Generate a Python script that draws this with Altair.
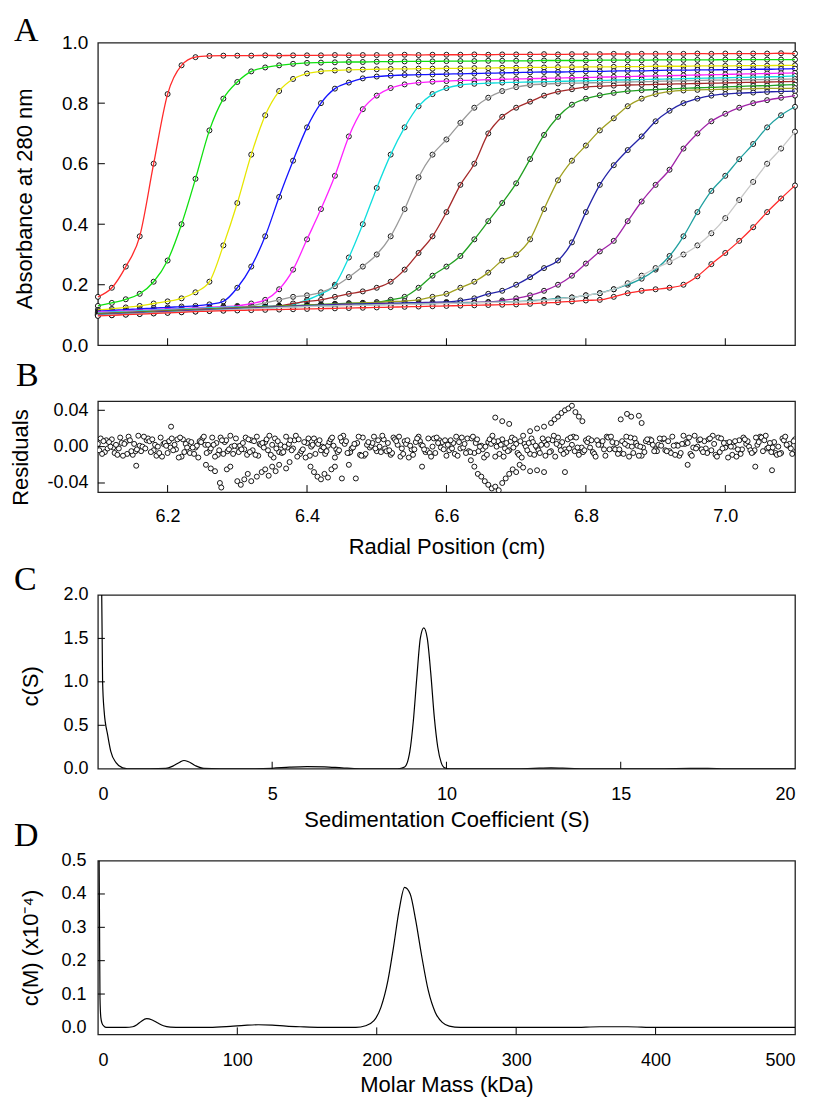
import altair as alt
import pandas as pd

# ---------------- Panel A: sedimentation velocity boundaries ----------------
radius = [6.10, 6.12, 6.14, 6.16, 6.18, 6.20, 6.22, 6.24, 6.26, 6.28,
          6.30, 6.32, 6.34, 6.36, 6.38, 6.40, 6.42, 6.44, 6.46, 6.48,
          6.50, 6.52, 6.54, 6.56, 6.58, 6.60, 6.62, 6.64, 6.66, 6.68,
          6.70, 6.72, 6.74, 6.76, 6.78, 6.80, 6.82, 6.84, 6.86, 6.88,
          6.90, 6.92, 6.94, 6.96, 6.98, 7.00, 7.02, 7.04, 7.06, 7.08, 7.10]

scan01 = [0.160, 0.190, 0.260, 0.360, 0.600, 0.830, 0.925, 0.952, 0.956, 0.957,
          0.957, 0.957, 0.958, 0.957, 0.958, 0.958, 0.958, 0.959, 0.958, 0.959,
          0.959, 0.959, 0.960, 0.959, 0.960, 0.960, 0.960, 0.961, 0.960, 0.961,
          0.961, 0.961, 0.962, 0.961, 0.962, 0.962, 0.962, 0.963, 0.962, 0.963,
          0.963, 0.963, 0.963, 0.964, 0.963, 0.964, 0.964, 0.964, 0.964, 0.965, 0.964]
scan02 = [0.130, 0.140, 0.152, 0.170, 0.210, 0.280, 0.400, 0.550, 0.710, 0.815,
          0.870, 0.905, 0.918, 0.925, 0.930, 0.933, 0.934, 0.935, 0.936, 0.936,
          0.937, 0.937, 0.938, 0.938, 0.938, 0.939, 0.939, 0.939, 0.940, 0.940,
          0.940, 0.940, 0.941, 0.941, 0.941, 0.941, 0.942, 0.942, 0.942, 0.942,
          0.943, 0.943, 0.943, 0.943, 0.943, 0.944, 0.944, 0.944, 0.944, 0.944, 0.944]
scan03 = [0.117, 0.120, 0.125, 0.130, 0.138, 0.145, 0.155, 0.175, 0.210, 0.330,
          0.470, 0.630, 0.760, 0.840, 0.880, 0.898, 0.905, 0.908, 0.910, 0.911,
          0.912, 0.913, 0.913, 0.914, 0.914, 0.915, 0.915, 0.916, 0.916, 0.917,
          0.917, 0.918, 0.918, 0.919, 0.919, 0.920, 0.920, 0.920, 0.921, 0.921,
          0.922, 0.922, 0.922, 0.923, 0.923, 0.923, 0.924, 0.924, 0.924, 0.925, 0.925]
scan04 = [0.113, 0.115, 0.118, 0.120, 0.123, 0.125, 0.128, 0.130, 0.135, 0.145,
          0.190, 0.260, 0.360, 0.490, 0.610, 0.720, 0.800, 0.848, 0.868, 0.882,
          0.888, 0.891, 0.893, 0.894, 0.895, 0.896, 0.897, 0.898, 0.899, 0.900,
          0.901, 0.902, 0.903, 0.903, 0.904, 0.905, 0.905, 0.906, 0.907, 0.907,
          0.908, 0.909, 0.909, 0.910, 0.910, 0.911, 0.911, 0.912, 0.912, 0.913, 0.914]
scan05 = [0.110, 0.112, 0.114, 0.116, 0.118, 0.120, 0.122, 0.124, 0.126, 0.128,
          0.130, 0.138, 0.150, 0.185, 0.250, 0.350, 0.450, 0.560, 0.690, 0.780,
          0.825, 0.850, 0.862, 0.868, 0.871, 0.873, 0.875, 0.876, 0.878, 0.879,
          0.880, 0.881, 0.882, 0.883, 0.884, 0.885, 0.886, 0.887, 0.888, 0.889,
          0.890, 0.891, 0.892, 0.893, 0.894, 0.895, 0.896, 0.897, 0.898, 0.899, 0.900]
scan06 = [0.108, 0.110, 0.112, 0.114, 0.116, 0.118, 0.120, 0.122, 0.124, 0.126,
          0.127, 0.128, 0.129, 0.130, 0.135, 0.150, 0.170, 0.200, 0.290, 0.400,
          0.520, 0.630, 0.720, 0.790, 0.830, 0.850, 0.860, 0.864, 0.866, 0.868,
          0.869, 0.870, 0.871, 0.872, 0.873, 0.874, 0.875, 0.876, 0.877, 0.878,
          0.879, 0.880, 0.881, 0.882, 0.883, 0.884, 0.885, 0.886, 0.887, 0.888, 0.890]
scan07 = [0.106, 0.108, 0.110, 0.112, 0.114, 0.116, 0.118, 0.120, 0.121, 0.123,
          0.125, 0.130, 0.140, 0.150, 0.160, 0.165, 0.175, 0.195, 0.225, 0.260,
          0.300, 0.360, 0.450, 0.555, 0.630, 0.680, 0.735, 0.785, 0.818, 0.840,
          0.853, 0.860, 0.863, 0.865, 0.866, 0.867, 0.868, 0.869, 0.870, 0.871,
          0.872, 0.873, 0.874, 0.875, 0.876, 0.876, 0.877, 0.878, 0.878, 0.879, 0.880]
scan08 = [0.104, 0.106, 0.108, 0.110, 0.112, 0.114, 0.116, 0.118, 0.120, 0.122,
          0.124, 0.126, 0.128, 0.130, 0.138, 0.145, 0.150, 0.160, 0.170, 0.178,
          0.190, 0.210, 0.250, 0.305, 0.360, 0.440, 0.530, 0.600, 0.700, 0.755,
          0.785, 0.805, 0.825, 0.838, 0.846, 0.853, 0.856, 0.858, 0.860, 0.861,
          0.862, 0.863, 0.864, 0.865, 0.866, 0.867, 0.868, 0.869, 0.870, 0.871, 0.872]
scan09 = [0.103, 0.105, 0.107, 0.109, 0.111, 0.113, 0.115, 0.117, 0.119, 0.121,
          0.123, 0.125, 0.127, 0.129, 0.131, 0.133, 0.135, 0.137, 0.139, 0.140,
          0.142, 0.150, 0.160, 0.190, 0.230, 0.260, 0.295, 0.350, 0.410, 0.470,
          0.535, 0.615, 0.695, 0.755, 0.795, 0.815, 0.826, 0.834, 0.840, 0.843,
          0.845, 0.847, 0.849, 0.851, 0.852, 0.854, 0.855, 0.857, 0.858, 0.860, 0.861]
scan10 = [0.102, 0.104, 0.106, 0.108, 0.110, 0.112, 0.114, 0.116, 0.118, 0.120,
          0.122, 0.124, 0.126, 0.128, 0.130, 0.132, 0.134, 0.136, 0.138, 0.140,
          0.142, 0.144, 0.146, 0.150, 0.160, 0.170, 0.190, 0.210, 0.240, 0.280,
          0.300, 0.350, 0.450, 0.545, 0.610, 0.660, 0.710, 0.750, 0.790, 0.815,
          0.830, 0.838, 0.842, 0.844, 0.845, 0.846, 0.847, 0.848, 0.849, 0.849, 0.850]
scan11 = [0.101, 0.103, 0.105, 0.107, 0.109, 0.111, 0.113, 0.115, 0.117, 0.119,
          0.121, 0.123, 0.125, 0.127, 0.129, 0.131, 0.133, 0.135, 0.136, 0.137,
          0.138, 0.139, 0.140, 0.141, 0.142, 0.143, 0.148, 0.155, 0.170, 0.180,
          0.200, 0.225, 0.255, 0.280, 0.340, 0.440, 0.530, 0.595, 0.645, 0.690,
          0.740, 0.775, 0.800, 0.815, 0.825, 0.830, 0.833, 0.835, 0.837, 0.839, 0.840]
scan12 = [0.100, 0.102, 0.104, 0.106, 0.108, 0.110, 0.112, 0.114, 0.116, 0.118,
          0.120, 0.122, 0.124, 0.126, 0.128, 0.130, 0.131, 0.132, 0.133, 0.134,
          0.135, 0.136, 0.137, 0.138, 0.139, 0.140, 0.141, 0.142, 0.143, 0.148,
          0.155, 0.165, 0.180, 0.200, 0.230, 0.270, 0.310, 0.345, 0.410, 0.475,
          0.530, 0.580, 0.650, 0.700, 0.740, 0.765, 0.785, 0.800, 0.810, 0.818, 0.825]
scan13 = [0.099, 0.101, 0.103, 0.105, 0.107, 0.109, 0.111, 0.113, 0.115, 0.117,
          0.119, 0.121, 0.123, 0.125, 0.127, 0.129, 0.130, 0.131, 0.132, 0.133,
          0.134, 0.135, 0.136, 0.137, 0.138, 0.139, 0.140, 0.141, 0.142, 0.143,
          0.144, 0.147, 0.150, 0.155, 0.158, 0.165, 0.172, 0.185, 0.200, 0.220,
          0.250, 0.295, 0.360, 0.440, 0.510, 0.560, 0.615, 0.665, 0.720, 0.760, 0.788]
scan14 = [0.098, 0.100, 0.102, 0.104, 0.106, 0.108, 0.110, 0.112, 0.114, 0.116,
          0.118, 0.120, 0.122, 0.124, 0.126, 0.128, 0.129, 0.130, 0.131, 0.132,
          0.133, 0.134, 0.135, 0.136, 0.137, 0.138, 0.139, 0.140, 0.141, 0.142,
          0.143, 0.145, 0.148, 0.152, 0.158, 0.165, 0.172, 0.185, 0.205, 0.230,
          0.255, 0.275, 0.300, 0.330, 0.370, 0.420, 0.480, 0.540, 0.600, 0.650, 0.706]
scan15 = [0.097, 0.099, 0.101, 0.103, 0.105, 0.107, 0.109, 0.111, 0.113, 0.114,
          0.115, 0.116, 0.117, 0.118, 0.119, 0.120, 0.121, 0.122, 0.123, 0.124,
          0.125, 0.126, 0.127, 0.128, 0.129, 0.130, 0.131, 0.132, 0.133, 0.134,
          0.135, 0.137, 0.140, 0.142, 0.145, 0.148, 0.150, 0.160, 0.172, 0.180,
          0.185, 0.190, 0.200, 0.228, 0.268, 0.305, 0.345, 0.390, 0.440, 0.485, 0.528]

scans = [scan01, scan02, scan03, scan04, scan05, scan06, scan07, scan08,
         scan09, scan10, scan11, scan12, scan13, scan14, scan15]
scan_ids = ["s%02d" % (i + 1) for i in range(len(scans))]
scan_colors = ["#ff2a2a", "#10e010", "#e6e600", "#1414ff", "#ff22ff", "#10dede",
               "#9a9a9a", "#a52a2a", "#22a022", "#a0a020", "#2424a8", "#a024a8",
               "#20a0a0", "#c8c8c8", "#ff2a2a"]

# ---------------- Panel B: residuals (units of 0.001) ----------------
res_step = 0.01
res_starts = [6.100, 6.102, 6.104, 6.106, 6.108]
res1_milli = [3, -6, 8, -2, 5, -9, 1, 7, -4, 10,
              -7, 2, -11, 6, -1, 9, -5, 4, -8, 12,
              0, -3, 7, -10, 5, 2, -6, 11, -2, -8,
              4, 9, -4, 1, -12, 6, -7, 3, 10, -1,
              -5, 8, -9, 2, 6, -3, 11, -6, 0, 7,
              -10, 4, -2, 9, -7, 1, 5, -11, 8, -4,
              3, 12, -8, -1, 6, -5, 10, -3, 2, -9,
              7, -6, 4, 11, -2, -7, 1, 9, -10, 5,
              -3, 8, -5, 2, 12, -8, 0, 6, -4, 10,
              -1, -9, 7, 3, -6, 11, -2, 5, -7, 1, 8]
res2_milli = [-4, 7, -1, 10, -8, 3, -5, 9, 2, -11,
              6, -3, 8, -7, 1, 11, -2, -9, 5, 0,
              -6, 10, -4, 3, 8, -12, 2, -1, 7, -5,
              9, -8, 0, 5, -3, 12, -6, 4, -10, 1,
              7, -2, -7, 11, 3, -9, 6, -4, 9, -1,
              2, -8, 10, -5, 4, -3, 8, 0, -11, 6,
              -7, 3, 9, -4, -10, 7, 1, -6, 11, -2,
              5, -8, 2, 10, -3, 6, -11, 4, -1, 8,
              -5, 9, -7, 1, 3, -10, 7, -2, 12, -6,
              4, 0, -8, 6, -4, 10, -1, -7, 9, 3, -5]
res3_milli = [9, -2, -7, 4, 11, -5, 0, 6, -10, 3,
              -1, 8, -6, 5, -12, 2, 10, -4, 7, -8,
              1, -9, 6, 2, -4, 9, -7, 3, 12, -3,
              -10, 5, -1, 8, -6, 3, -2, 11, -8, 4,
              0, -5, 10, -11, 7, -3, 2, 9, -7, 5,
              -4, 11, -1, -6, 8, -12, 3, 6, -2, 10,
              -9, 0, 5, -7, 2, 12, -4, 8, -5, -1,
              9, -11, 6, -3, 4, -8, 10, 1, -6, 7,
              2, -4, 11, -10, 5, -1, 8, -7, 3, 9,
              -12, 6, -3, 0, 10, -5, 4, -9, 7, -2, 6]
res4_milli = [-8, 5, 2, -10, 7, -3, 11, -6, 0, 4,
              9, -12, 3, -1, 6, -7, 2, 10, -5, 1,
              -3, 8, -9, 4, 12, -2, -6, 7, -11, 5,
              0, 3, -8, 10, -4, 6, -1, -9, 2, 11,
              -6, 4, 8, -2, -12, 5, 1, -7, 10, -3,
              7, -10, 3, 9, -5, 0, 12, -8, 4, -1,
              6, -4, -9, 2, 8, -11, 5, -2, 10, -6,
              -1, 7, -3, 11, -8, 3, 0, -10, 6, 2,
              9, -5, 1, -7, 4, 12, -3, 8, -9, -2,
              5, -11, 10, -4, 2, 7, -6, 0, 11, -8, 3]
res5_milli = [6, 0, -9, 3, -5, 12, -2, 8, -7, 1,
              -4, 10, -1, -8, 5, 2, -11, 7, -3, 9,
              4, -6, 11, -1, -9, 6, 0, -4, 8, -12,
              2, 7, -5, 1, 10, -7, 3, -10, 5, -2,
              12, -4, 6, -8, 1, 9, -3, -11, 4, 7,
              -2, 5, -7, 11, 0, -9, 6, 2, -5, 8,
              -12, 4, 1, 9, -6, 3, -8, 10, -1, -4,
              7, 2, -10, 5, -3, 11, -7, 0, 8, -5,
              1, 6, -9, 3, 10, -2, -6, 9, -11, 4,
              0, -3, 8, -7, 5, 12, -1, -8, 2, 6, -4]
res_series = [res1_milli, res2_milli, res3_milli, res4_milli, res5_milli]
# systematic excursions / outliers
out_r = [6.155, 6.205, 6.255, 6.262, 6.268, 6.275, 6.277, 6.285, 6.290, 6.300,
         6.305, 6.310, 6.315, 6.320, 6.328, 6.335, 6.340, 6.345, 6.350, 6.355,
         6.360, 6.370, 6.375, 6.405, 6.410, 6.415, 6.420, 6.425, 6.430, 6.435,
         6.440, 6.450, 6.460, 6.470, 6.565, 6.635, 6.640, 6.645, 6.650, 6.655,
         6.660, 6.665, 6.670, 6.675, 6.680, 6.685, 6.690, 6.695, 6.700, 6.705,
         6.710, 6.720, 6.730, 6.740, 6.670, 6.680, 6.690, 6.720, 6.730, 6.740,
         6.750, 6.755, 6.760, 6.765, 6.770, 6.775, 6.780, 6.785, 6.790, 6.795,
         6.850, 6.859, 6.865, 6.876, 6.880, 6.770, 6.946, 7.043, 7.067]
out_milli = [-21, 22, -20, -24, -27, -40, -45, -25, -22, -38,
             -42, -36, -30, -38, -33, -28, -25, -32, -22, -27,
             -20, -24, -17, -22, -28, -33, -36, -30, -34, -25,
             -22, -35, -20, -35, -22, -15, -22, -30, -33, -38,
             -42, -46, -44, -48, -40, -35, -30, -25, -28, -20,
             -23, -27, -26, -28, 32, 28, 25, 17, 20, 22,
             26, 30, 33, 37, 40, 42, 45, 38, 33, 28,
             30, 36, 33, 34, 26, -28, -20, -22, -26]

# ---------------- Panel C: c(S) ----------------
s_val = [0.11, 0.135, 0.18, 0.28, 0.37, 0.52, 0.71, 0.85, 1.0, 1.5,
         1.95, 2.15, 2.35, 2.47, 2.6, 2.8, 3.04, 3.5, 4.5, 5.0,
         5.5, 6.0, 6.5, 7.0, 7.5, 8.0, 8.6, 8.8, 8.95, 9.05,
         9.15, 9.25, 9.35, 9.45, 9.55, 9.65, 9.75, 9.85, 9.95, 10.1,
         10.5, 12.0, 12.5, 13.0, 13.5, 14.0, 16.0, 17.0, 17.5, 18.0, 20.0]
c_s = [2.0, 1.0, 0.66, 0.39, 0.20, 0.07, 0.01, 0.0, 0.0, 0.0,
       0.004, 0.03, 0.075, 0.095, 0.08, 0.035, 0.004, 0.0, 0.0, 0.005,
       0.018, 0.025, 0.022, 0.01, 0.0, 0.0, 0.0, 0.02, 0.2, 0.55,
       1.05, 1.5, 1.62, 1.5, 1.1, 0.6, 0.25, 0.07, 0.01, 0.0,
       0.0, 0.0, 0.005, 0.01, 0.005, 0.0, 0.0, 0.004, 0.005, 0.0, 0.0]

# ---------------- Panel D: c(M) ----------------
m_val = [0.9, 1.2, 1.5, 2.1, 3.0, 4.3, 6.0, 10, 20, 25,
         28, 31, 35, 39, 43, 47, 52, 60, 80, 95,
         105, 115, 125, 135, 145, 160, 185, 192, 198, 203,
         208, 212, 216, 220, 224, 228, 232, 237, 242, 247,
         252, 260, 340, 360, 380, 400, 500]
c_m = [0.5, 0.3, 0.09, 0.03, 0.012, 0.004, 0.0, 0.0, 0.0, 0.002,
       0.008, 0.018, 0.026, 0.022, 0.013, 0.005, 0.001, 0.0, 0.0, 0.003,
       0.006, 0.008, 0.007, 0.004, 0.002, 0.0, 0.0, 0.005, 0.02, 0.06,
       0.14, 0.24, 0.35, 0.42, 0.40, 0.32, 0.22, 0.11, 0.045, 0.015,
       0.004, 0.0, 0.0, 0.002, 0.002, 0.0, 0.0]

# ---------------- layout constants ----------------
W = 698
HA, HB, HC, HD = 303, 91, 174, 174
GAP1, GAP2, GAP3 = 56, 103, 92
TL = 7
FONT = "Liberation Sans, Arial, Helvetica, sans-serif"
SERIF = "Liberation Serif, Times New Roman, serif"

pt_style = dict(shape="circle", filled=True, fill="white", stroke="black",
                strokeWidth=0.9, size=25, opacity=1)


def bottom_ticks(vals, scale, axis, H):
    return alt.Chart(pd.DataFrame({"tv": vals})).mark_rule(color="black", strokeWidth=1).encode(
        x=alt.X("tv:Q", scale=scale, axis=axis), y=alt.value(H), y2=alt.value(H - TL))


def left_ticks(vals, scale, axis):
    return alt.Chart(pd.DataFrame({"tv": vals})).mark_rule(color="black", strokeWidth=1).encode(
        y=alt.Y("tv:Q", scale=scale, axis=axis), x=alt.value(0), x2=alt.value(TL))


def letter(ch, dx, dy):
    return alt.Chart(pd.DataFrame({"t": [ch]})).mark_text(
        font=SERIF, fontSize=34, align="left", baseline="alphabetic", color="black"
    ).encode(text="t:N", x=alt.value(dx), y=alt.value(dy))


def spacer(h):
    return alt.Chart(pd.DataFrame({"v": [0]})).mark_point(opacity=0).encode(
        x=alt.X("v:Q", axis=None), y=alt.Y("v:Q", axis=None)
    ).properties(width=W, height=h, view=alt.ViewBackground(strokeOpacity=0))


def yaxis(values, size, pad, title, tx, ty, fmt=None, expr=None):
    kw = dict(values=values, labelFontSize=size, labelPadding=pad, title=title,
              titleFontSize=22, titleX=tx, titleY=ty, titleAngle=270,
              titleAlign="center", titleBaseline="middle")
    if fmt:
        kw["format"] = fmt
    if expr:
        kw["labelExpr"] = expr
    return alt.Axis(**kw)


def xaxis(values, size, pad, title, ty, fmt):
    return alt.Axis(values=values, format=fmt, labelFontSize=size, labelPadding=pad,
                    title=title, titleFontSize=22, titleX=W / 2, titleY=ty,
                    titleAlign="center", titleBaseline="middle")


# ---------- A ----------
rowsA = []
for sid, vals in zip(scan_ids, scans):
    for r, a in zip(radius, vals):
        rowsA.append({"r": r, "a": a, "scan": sid})
dfA = pd.DataFrame(rowsA)
xA = alt.Scale(domain=[6.1, 7.1], nice=False, zero=False)
yA = alt.Scale(domain=[0, 1], nice=False)
axAx = alt.Axis(labels=False, title=None)
axAy = yaxis([0, 0.2, 0.4, 0.6, 0.8, 1.0], 19, 10, "Absorbance at 280 nm", -73, 156, fmt=".1f")

ptsA = alt.Chart(dfA).mark_point(**pt_style).encode(
    x=alt.X("r:Q", scale=xA, axis=axAx), y=alt.Y("a:Q", scale=yA, axis=axAy), detail="scan:N")
linesA = alt.Chart(dfA).mark_line(strokeWidth=1.3, interpolate="monotone").encode(
    x=alt.X("r:Q", scale=xA, axis=axAx), y=alt.Y("a:Q", scale=yA, axis=axAy),
    color=alt.Color("scan:N", scale=alt.Scale(domain=scan_ids, range=scan_colors), legend=None))
panelA = alt.layer(
    ptsA, linesA,
    bottom_ticks([6.2, 6.4, 6.6, 6.8, 7.0], xA, axAx, HA),
    left_ticks([0.2, 0.4, 0.6, 0.8], yA, axAy),
    letter("A", -84, -2),
).properties(width=W, height=HA)

# ---------- B ----------
rowsB = []
for start, ser in zip(res_starts, res_series):
    for i, v in enumerate(ser):
        rowsB.append({"r": start + i * res_step, "v": v / 1000.0})
for r, v in zip(out_r, out_milli):
    rowsB.append({"r": r, "v": v / 1000.0})
dfB = pd.DataFrame(rowsB)
xB = alt.Scale(domain=[6.1, 7.1], nice=False, zero=False)
yB = alt.Scale(domain=[-0.05, 0.05], nice=False)
axBx = xaxis([6.2, 6.4, 6.6, 6.8, 7.0], 18, 15, "Radial Position (cm)", 54, ".1f")
axBy = yaxis([-0.04, 0.0, 0.04], 18, 10, "Residuals", -77, 56,
             expr="datum.value < 0 ? '-' + format(-datum.value, '.2f') : format(datum.value, '.2f')")
ptsB = alt.Chart(dfB).mark_point(clip=True, **pt_style).encode(
    x=alt.X("r:Q", scale=xB, axis=axBx), y=alt.Y("v:Q", scale=yB, axis=axBy))
panelB = alt.layer(
    ptsB,
    bottom_ticks([6.2, 6.4, 6.6, 6.8, 7.0], xB, axBx, HB),
    left_ticks([-0.04, 0.0, 0.04], yB, axBy),
    letter("B", -82, -15),
).properties(width=W, height=HB)

# ---------- C ----------
dfC = pd.DataFrame({"s": s_val, "c": c_s})
xC = alt.Scale(domain=[0, 20], nice=False)
yC = alt.Scale(domain=[0, 2], nice=False)
axCx = xaxis([0, 5, 10, 15, 20], 18, 17, "Sedimentation Coefficient (S)", 51, "d")
axCy = yaxis([0, 0.5, 1.0, 1.5, 2.0], 18, 10, "c(S)", -67, 91, fmt=".1f")
lineC = alt.Chart(dfC).mark_line(color="black", strokeWidth=1.2, interpolate="monotone", clip=True).encode(
    x=alt.X("s:Q", scale=xC, axis=axCx), y=alt.Y("c:Q", scale=yC, axis=axCy))
panelC = alt.layer(
    lineC,
    bottom_ticks([5, 10, 15], xC, axCx, HC),
    left_ticks([0.5, 1.0, 1.5], yC, axCy),
    letter("C", -84, -5),
).properties(width=W, height=HC)

# ---------- D ----------
dfD = pd.DataFrame({"m": m_val, "c": c_m})
xD = alt.Scale(domain=[0, 500], nice=False)
yD = alt.Scale(domain=[-0.021, 0.5], nice=False, zero=False)
axDx = xaxis([0, 100, 200, 300, 400, 500], 18, 17, "Molar Mass (kDa)", 50, "d")
axDy = yaxis([0, 0.1, 0.2, 0.3, 0.4, 0.5], 18, 12, "c(M) (x10\u207b\u2074)", -67, 87, fmt=".1f")
lineD = alt.Chart(dfD).mark_line(color="black", strokeWidth=1.2, interpolate="monotone", clip=True).encode(
    x=alt.X("m:Q", scale=xD, axis=axDx), y=alt.Y("c:Q", scale=yD, axis=axDy))
panelD = alt.layer(
    lineD,
    bottom_ticks([100, 200, 300, 400], xD, axDx, HD),
    left_ticks([0.1, 0.2, 0.3, 0.4], yD, axDy),
    letter("D", -84, -15),
).properties(width=W, height=HD)

chart = alt.vconcat(
    panelA, spacer(GAP1), panelB, spacer(GAP2), panelC, spacer(GAP3), panelD,
    spacing=0, bounds="flush"
).properties(
    padding={"left": 1, "top": 4, "right": 5, "bottom": 5},
).configure_view(
    stroke="#222222", strokeWidth=1.3
).configure_axis(
    grid=False, domain=False, ticks=False, labelFont=FONT, titleFont=FONT,
    labelColor="black", titleColor="black", titleFontWeight="normal"
)

chart.save("out.html", embed_options={"renderer": "svg", "actions": False})
